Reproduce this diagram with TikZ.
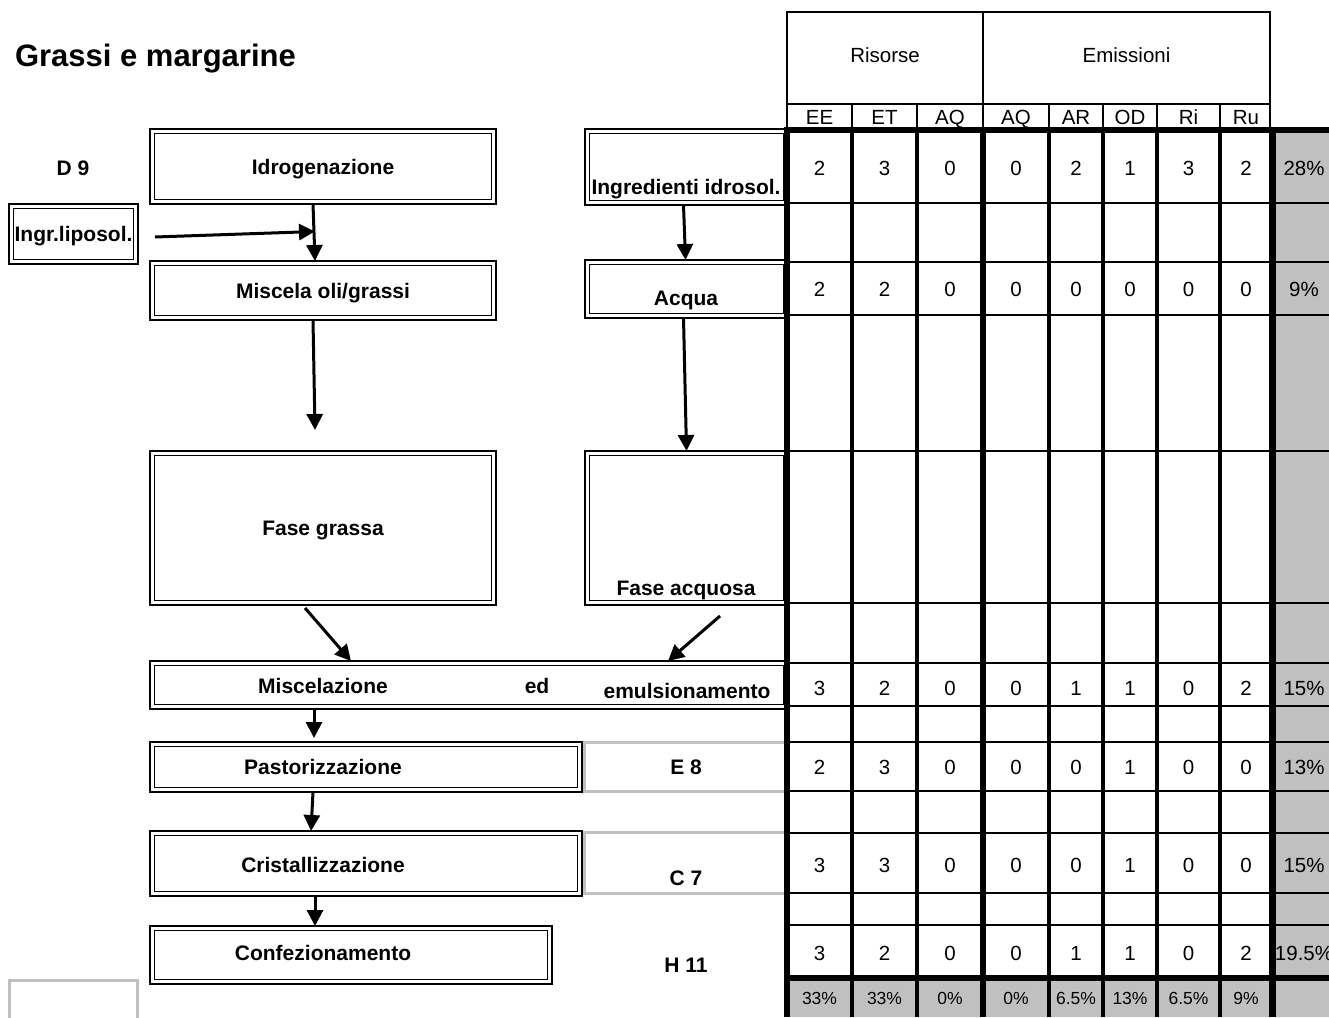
\documentclass[tikz,border=0pt]{standalone}
\usepackage{fontspec}
\setmainfont{Liberation Sans}
\usetikzlibrary{arrows.meta,calc}
\definecolor{cellgray}{RGB}{192,192,192}
\tikzset{
  every node/.style={inner sep=0pt, outer sep=0pt},
  stepbox/.style={draw, line width=2.8pt, font=\fontsize{21}{24}\selectfont\bfseries,
                  text height=15pt, text depth=0pt},
  lbl/.style={font=\fontsize{21}{24}\selectfont\bfseries, text height=15pt, text depth=0pt},
  grayframe/.style={draw=cellgray, line width=3pt},
  flow/.style={line width=3pt, -{Triangle[length=16pt,width=16pt]}},
  tval/.style={font=\fontsize{20.5}{24}\selectfont, text height=14.7pt, text depth=0pt},
  thead/.style={font=\fontsize{20.5}{24}\selectfont, text height=14.7pt, text depth=0pt},
  tsum/.style={font=\fontsize{17.5}{20}\selectfont, text height=12.5pt, text depth=0pt},
  hairrule/.style={line width=2.3pt},
  rowrule/.style={line width=2.8pt},
  colrule/.style={line width=3.6pt},
  heavyrule/.style={line width=5.5pt},
  edgerule/.style={line width=7pt},
}
\begin{document}
\begin{tikzpicture}[x=1pt, y=-1pt]
\clip (0,0) rectangle (1329,1017);
\fill[white] (0,0) rectangle (1329,1017);

% title
\node[anchor=west, font=\fontsize{31}{35}\selectfont\bfseries, text height=22.2pt, text depth=0pt]
  (title) at (15,55) {Grassi e margarine};

% ---------- process steps (outer frame of each double box) ----------
\node[stepbox, minimum width=346pt, minimum height=75pt]  (idro)  at (323,166.5) {Idrogenazione};
\node[stepbox, minimum width=129pt, minimum height=60pt]  (lipo)  at (73.5,234)  {Ingr.liposol.};
\node[stepbox, minimum width=346pt, minimum height=59pt]  (misc)  at (323,290.5) {Miscela oli/grassi};
\node[stepbox, minimum width=203pt, minimum height=76pt]  (ingid) at (686.5,167) {};
\node[stepbox, minimum width=203pt, minimum height=58pt]  (acqua) at (686.5,289) {};
\node[stepbox, minimum width=346pt, minimum height=154pt] (fgr)   at (323,528)   {Fase grassa};
\node[stepbox, minimum width=203pt, minimum height=154pt] (faq)   at (686.5,528) {};
\node[stepbox, minimum width=638pt, minimum height=48pt]  (mix)   at (469,685)   {};
\node[stepbox, minimum width=432pt, minimum height=50pt]  (past)  at (366,767)   {};
\node[stepbox, minimum width=432pt, minimum height=65pt]  (crist) at (366,863.5) {};
\node[stepbox, minimum width=402pt, minimum height=58pt]  (conf)  at (351,955)   {};

% inner frame of each double box
\foreach \b in {idro,lipo,misc,ingid,acqua,fgr,faq,mix,past,crist,conf}
  \draw[line width=1.4pt] ([shift={(4.3pt,-4.3pt)}]\b.north west) rectangle ([shift={(-4.3pt,4.3pt)}]\b.south east);

% grey side frames with plant codes
\node[grayframe, minimum width=203pt, minimum height=49pt] (e8) at (685.5,766.5) {};
\node[grayframe, minimum width=203pt, minimum height=61pt] (c7) at (685.5,862.5) {};
\draw[grayframe] (9,1025) -- (9,980) -- (137,980) -- (137,1025);

% labels placed off-centre in their boxes
\node[lbl] (d9)     at (73,168)  {D 9};
\node[lbl] (ingidT) at (686,187) {Ingredienti idrosol.};
\node[lbl] (acquaT) at (686,298) {Acqua};
\node[lbl] (faqT)   at (686,588) {Fase acquosa};
\node[lbl] (mixA)   at (323,686) {Miscelazione};
\node[lbl] (mixB)   at (537,686) {ed};
\node[lbl] (mixC)   at (687,691) {emulsionamento};
\node[lbl] (pastT)  at (323,767) {Pastorizzazione};
\node[lbl] (e8T)    at (686,767) {E 8};
\node[lbl] (cristT) at (323,865) {Cristallizzazione};
\node[lbl] (c7T)    at (686,878) {C 7};
\node[lbl] (confT)  at (323,953) {Confezionamento};
\node[lbl] (h11)    at (686,965) {H 11};

% ---------- flow arrows ----------
\draw[flow] ([xshift=-10pt]idro.south) -- ([xshift=-8pt]misc.north);
\draw[flow] ([xshift=17pt,yshift=-3pt]lipo.east) -- ($($(idro.south)!0.5!(misc.north)$)+(-8pt,1pt)$);
\draw[flow] ([xshift=-10pt]misc.south) -- ([xshift=-8pt,yshift=21pt]fgr.north);
\draw[flow] ([xshift=-3pt]ingid.south) -- ([xshift=-1pt]acqua.north);
\draw[flow] ([xshift=-3pt]acqua.south) -- (faq.north);
\draw[flow] ([xshift=-18pt,yshift=-3pt]fgr.south) -- ([xshift=-118pt]mix.north);
\draw[flow] ([xshift=33.5pt,yshift=-11pt]faq.south) -- ([xshift=199pt]mix.north);
\draw[flow] ([xshift=-155pt]mix.south) -- ([xshift=-52pt,yshift=4pt]past.north);
\draw[flow] ([xshift=-53pt]past.south) -- ([xshift=-55pt]crist.north);
\draw[flow] ([xshift=-51pt]crist.south) -- ([xshift=-36pt]conf.north);

% ---------- impact table ----------
\fill[cellgray] (1274,130) rectangle (1329,1017);
\fill[cellgray] (787,978) rectangle (1274,1017);

% header
\draw[hairrule] (787,12) rectangle (1270,130);
\draw[hairrule] (983,12) -- (983,130);
\draw[hairrule] (787,104) -- (1270,104);
\foreach \x in {852,917,1049,1103,1157,1220}
  \draw[hairrule] (\x,104) -- (\x,130);
\node[thead] (risorse)   at (885,55)    {Risorse};
\node[thead] (emissioni) at (1126.5,55) {Emissioni};
\foreach \x/\t [count=\i] in {819.5/EE,884.5/ET,950/AQ,1016/AQ,1076/AR,1130/OD,1188.5/Ri,1246/Ru}
  \node[thead] (h\i) at (\x,117) {\t};

% body rules
\foreach \y in {203,262,315,451,603,663,706,742,791,833,893,925}
  \draw[rowrule] (787,\y) -- (1329,\y);
\draw[heavyrule] (784,130) -- (1329,130);
\draw[heavyrule] (787,978) -- (1329,978);
\foreach \x in {852,917,1049,1103,1157,1220}
  \draw[colrule] (\x,130) -- (\x,1017);
\foreach \x in {787,983}
  \draw[heavyrule] (\x,128) -- (\x,1017);
\draw[edgerule] (1272,128) -- (1272,1017);

% scores per step
\foreach \y/\vals [count=\r] in {
    168/{2,3,0,0,2,1,3,2,28\%},
    289/{2,2,0,0,0,0,0,0,9\%},
    688/{3,2,0,0,1,1,0,2,15\%},
    767/{2,3,0,0,0,1,0,0,13\%},
    865/{3,3,0,0,0,1,0,0,15\%},
    953/{3,2,0,0,1,1,0,2,19.5\%}}
  \foreach \v [count=\c] in \vals {
    \pgfmathsetmacro{\cx}{{819.5,884.5,950,1016,1076,1130,1188.5,1246,1304}[\c-1]}
    \node[tval] (v\r-\c) at (\cx,\y) {\v};
  }

% column totals
\foreach \x/\t [count=\i] in {819.5/33\%,884.5/33\%,950/0\%,1016/0\%,1076/6.5\%,1130/13\%,1188.5/6.5\%,1246/9\%}
  \node[tsum] (s\i) at (\x,998) {\t};
\end{tikzpicture}
\end{document}
